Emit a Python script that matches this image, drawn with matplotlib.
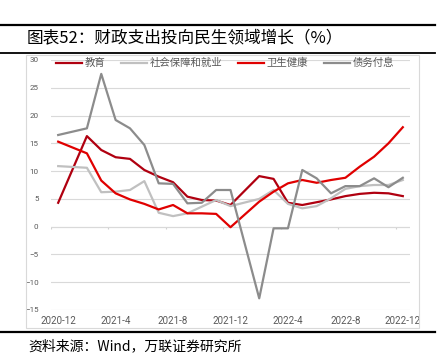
import numpy as np
import matplotlib
matplotlib.use("Agg")
import matplotlib.pyplot as plt
from matplotlib.lines import Line2D
from matplotlib.patches import Rectangle
from matplotlib.transforms import Bbox, TransformedBbox

plt.rcParams['font.family'] = ['Noto Sans CJK SC', 'DejaVu Sans']

nan = np.nan
months = ['2020-12', '2021-1', '2021-2', '2021-3', '2021-4', '2021-5', '2021-6',
          '2021-7', '2021-8', '2021-9', '2021-10', '2021-11', '2021-12',
          '2022-1', '2022-2', '2022-3', '2022-4', '2022-5', '2022-6',
          '2022-7', '2022-8', '2022-9', '2022-10', '2022-11', '2022-12']

# January has no separate figure (Jan-Feb combined), so it is left empty
education = [4.3, nan, 16.3, 13.8, 12.5, 12.2, 10.2, 9.0, 8.0, 5.4, 4.8, 4.7, 3.9,
             nan, 9.1, 8.6, 4.3, 3.9, 4.4, 4.9, 5.5, 5.9, 6.1, 6.0, 5.5]
social = [10.9, nan, 10.6, 6.2, 6.3, 6.6, 8.2, 2.5, 1.9, 2.4, 3.6, 4.8, 3.7,
          nan, 5.0, 6.6, 4.1, 3.3, 3.7, 5.1, 6.8, 7.3, 7.5, 7.5, 8.4]
health = [15.3, nan, 13.2, 8.3, 6.0, 4.9, 4.1, 3.1, 3.9, 2.4, 2.4, 2.3, -0.1,
          nan, 4.5, 6.3, 7.8, 8.4, 7.9, 8.4, 8.8, 10.8, 12.6, 15.0, 17.9]
debt = [16.5, nan, 17.7, 27.5, 19.2, 17.7, 14.7, 7.8, 7.7, 4.2, 4.3, 6.6, 6.6,
        nan, -12.9, -0.3, -0.3, 10.2, 8.7, 6.0, 7.3, 7.3, 8.7, 7.1, 8.8]

series = [
    ('教育', education, '#B00010'),
    ('社会保障和就业', social, '#C0C0C0'),
    ('卫生健康', health, '#E00000'),
    ('债务付息', debt, '#8C8C8C'),
]

W, H = 446, 363
fig = plt.figure(figsize=(W / 100, H / 100), dpi=100)


def fx(px):
    return px / W


def fy(py):
    return 1 - py / H


# header / footer rules
fig.add_artist(Line2D([0, fx(435)], [fy(25), fy(25)], color='black', lw=1.6))
fig.add_artist(Line2D([0, fx(435)], [fy(52.5), fy(52.5)], color='black', lw=1.3))
fig.add_artist(Line2D([0, fx(435)], [fy(331.5), fy(331.5)], color='black', lw=1.6))
fig.text(fx(27), fy(39), '图表52：财政支出投向民生领域增长（%）', fontsize=12,
         va='center', ha='left', color='black')
fig.text(fx(28), fy(346), '资料来源：Wind，万联证券研究所', fontsize=10,
         va='center', ha='left', color='black')

# chart area border
fig.add_artist(Rectangle((fx(25.5), fy(328)), fx(418.5) - fx(25.5), fy(55) - fy(328),
                         transform=fig.transFigure, fill=False, edgecolor='#D9D9D9', lw=0.8))

ax = fig.add_axes([fx(51), fy(310), fx(410) - fx(51), fy(60) - fy(310)])
x = np.arange(len(months))
for name, vals, col in series:
    v = np.array(vals, dtype=float)
    m = ~np.isnan(v)
    ax.plot(x[m], v[m], color=col, lw=1.6, label=name, solid_joinstyle='round')

ax.set_xlim(-0.5, len(months) - 0.5)
ax.set_ylim(-15, 30)
ax.set_yticks(range(-15, 31, 5))
ax.grid(axis='y', color='#D9D9D9', lw=0.8)
ax.set_axisbelow(True)
for s in ax.spines.values():
    s.set_visible(False)

# zero line with category tick marks
ax.axhline(0, color='#D0D0D0', lw=0.8, zorder=0)
bounds = np.arange(-0.5, len(months), 4)
ax.vlines(bounds, -0.5, 0, color='#D0D0D0', lw=0.8, zorder=0)

ax.set_xticks(x[::4])
ax.set_xticklabels(months[::4], family='Roboto', fontsize=7, color='#595959')
ax.tick_params(axis='x', length=0, pad=4)
ax.tick_params(axis='y', length=0, pad=9, labelsize=5.8, labelcolor='#595959')
for lab in ax.get_yticklabels():
    lab.set_family('Roboto')
clip = TransformedBbox(Bbox([[fx(25.5), 0], [fx(418.5), 1]]), fig.transFigure)
for lab in ax.get_xticklabels():
    lab.set_clip_on(True)
    lab.set_clip_box(clip)

leg = ax.legend(loc='upper left', bbox_to_anchor=(0.003, 1.025), ncol=4, frameon=False,
                fontsize=7.5, handlelength=2.5, handletextpad=0.25, columnspacing=1.5,
                borderaxespad=0)
for t in leg.get_texts():
    t.set_color('#595959')

fig.savefig('out.png', dpi=100)
